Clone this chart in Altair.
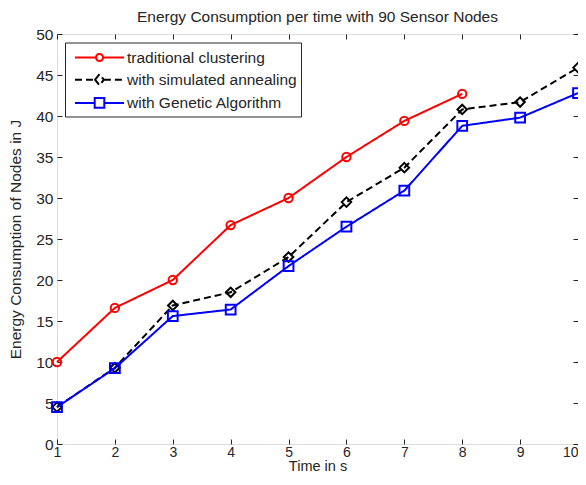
import altair as alt
import pandas as pd

# ---- data ----
x_vals = list(range(1, 11))
traditional = [10, 16.6, 20, 26.7, 30, 35, 39.4, 42.7]
annealing = [4.5, 9.3, 16.9, 18.5, 22.8, 29.5, 33.7, 40.8, 41.7, 45.9]
genetic = [4.5, 9.25, 15.6, 16.4, 21.7, 26.5, 30.9, 38.8, 39.8, 42.8]
series_names = ["traditional clustering", "with simulated annealing", "with Genetic Algorithm"]
x_ticks = list(range(1, 11))
y_ticks = list(range(0, 51, 5))

# ---- styling ----
series_values = [traditional, annealing, genetic]
colors = ["#ff0000", "#000000", "#0000ff"]
dashes = [[1, 0], [7, 4], [1, 0]]
shapes = ["circle", "diamond", "square"]
sizes = [70, 90, 95]
legend_paths = [
    "M-2.45,0L-0.35,0M0.35,0L2.45,0M-0.35,0A0.35,0.35,0,1,1,0.35,0A0.35,0.35,0,1,1,-0.35,0Z",
    "M-2.45,0L-0.44,0M0.44,0L2.45,0M-0.44,0L0,-0.55L0.44,0L0,0.55Z",
    "M-2.45,0L-0.48,0M0.48,0L2.45,0M-0.48,-0.48L0.48,-0.48L0.48,0.48L-0.48,0.48Z",
]
FONT = "Liberation Sans"
TXT = "#262626"
FS = 15.5

rows = []
for name, vals in zip(series_names, series_values):
    for xv, yv in zip(x_vals, vals):
        rows.append({"x": xv, "y": yv, "series": name})
df = pd.DataFrame(rows)

xscale = alt.Scale(domain=[1, 10], nice=False, zero=False)
yscale = alt.Scale(domain=[0, 50], nice=False)

axis_common = dict(
    grid=False, domain=False, tickSize=5, offset=-5, tickColor=TXT, tickWidth=1,
    labelFont=FONT, labelFontSize=FS, labelColor=TXT, titleFont=FONT,
    titleFontSize=FS, titleColor=TXT, titleFontWeight="normal",
)
x_common = dict(axis_common, labelFontSize=14, titleFontSize=14.5)

x_bottom = alt.X("x:Q", scale=xscale, axis=alt.Axis(
    orient="bottom", values=x_ticks, format="d", labelPadding=1, title="Time in s", titlePadding=0,
    labelAlign={"condition": {"test": "datum.value >= 10", "value": "right"}, "value": "center"},
    **x_common))
y_left = alt.Y("y:Q", scale=yscale, axis=alt.Axis(
    orient="left", values=y_ticks, format="d", labelPadding=4,
    title="Energy Consumption of Nodes in J", titlePadding=12, **axis_common))
x_top = alt.X("x:Q", scale=xscale, axis=alt.Axis(orient="top", values=x_ticks, labels=False,
                                                 title=None, **axis_common))
y_right = alt.Y("y:Q", scale=yscale, axis=alt.Axis(orient="right", values=y_ticks, labels=False,
                                                   title=None, **axis_common))
x_none = alt.X("x:Q", scale=xscale, axis=None)
y_none = alt.Y("y:Q", scale=yscale, axis=None)

layers = []
for i, name in enumerate(series_names):
    sub = alt.Chart(df).transform_filter(alt.datum.series == name)
    if i == 0:
        lx, ly, px, py = x_bottom, y_left, x_top, y_right
    else:
        lx, ly, px, py = x_none, y_none, x_none, y_none
    line = sub.mark_line(color=colors[i], strokeWidth=2, strokeDash=dashes[i]).encode(x=lx, y=ly)
    pts = sub.mark_point(shape=shapes[i], filled=False, color=colors[i], strokeWidth=2,
                         size=sizes[i], opacity=1).encode(x=px, y=py)
    layers += [line, pts]

leg = alt.Legend(
    title=None, orient="none", legendX=8, legendY=8.5, strokeColor=TXT, fillColor="white",
    padding=4, labelFont=FONT, labelFontSize=FS, labelColor=TXT, labelLimit=400,
    symbolStrokeWidth=2, rowPadding=2.2, symbolOffset=19.5, labelOffset=16.5, symbolSize=400,
    cornerRadius=0,
)
legend_layer = alt.Chart(df).transform_filter("false").mark_point(
    filled=False, strokeWidth=2, size=400, opacity=1
).encode(
    color=alt.Color("series:N", scale=alt.Scale(domain=series_names, range=colors), legend=leg),
    shape=alt.Shape("series:N", scale=alt.Scale(domain=series_names, range=legend_paths), legend=leg),
    strokeDash=alt.StrokeDash("series:N", scale=alt.Scale(domain=series_names, range=dashes), legend=leg),
)
layers.append(legend_layer)

chart = alt.layer(*layers).resolve_axis(x="independent", y="independent").properties(
    width=521, height=410,
    autosize=alt.AutoSizeParams(type="none"),
    padding={"left": 49, "top": 26, "right": 0, "bottom": 33},
    title=alt.TitleParams("Energy Consumption per time with 90 Sensor Nodes", font=FONT,
                          fontSize=FS, fontWeight="normal", color=TXT, anchor="middle",
                          frame="group", offset=2),
).configure_view(stroke=TXT, strokeWidth=1).configure(background="white")

chart.save("out.html", embed_options={"renderer": "svg", "actions": False})
